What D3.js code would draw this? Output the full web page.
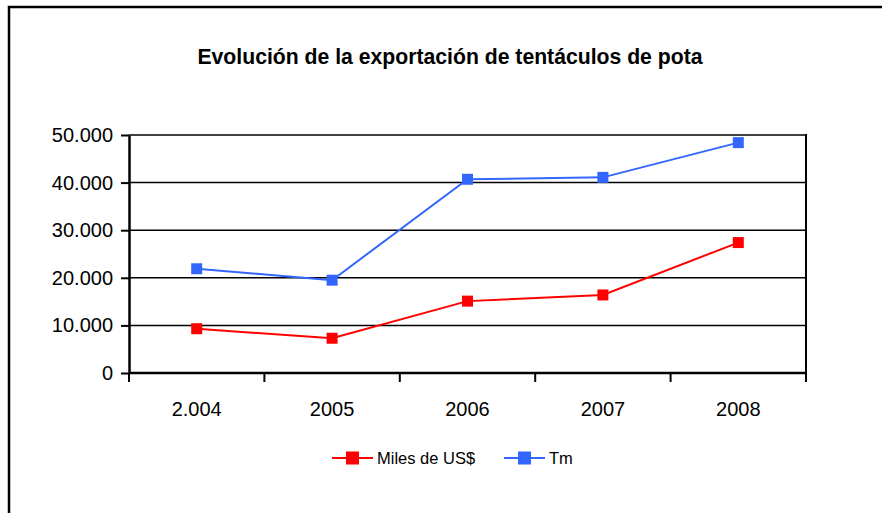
<!DOCTYPE html>
<html>
<head>
<meta charset="utf-8">
<script src="https://cdn.jsdelivr.net/npm/d3@7"></script>
<style>
  body { margin: 0; background: #fff; }
  text { font-family: "Liberation Sans", Arial, sans-serif; }
</style>
</head>
<body>
<div id="viz"></div>
<script>
var W = 882, H = 513;

// data
var years = ["2.004", "2005", "2006", "2007", "2008"];
var milesUS = [9300, 7300, 15100, 16400, 27400];
var tm = [21900, 19500, 40700, 41100, 48400];
var yTicks = [0, 10000, 20000, 30000, 40000, 50000];
var seriesNames = ["Miles de US$", "Tm"];
var seriesColors = ["#ff0000", "#3366ff"];

var svg = d3.select("#viz").append("svg")
    .attr("width", W)
    .attr("height", H);

// outer frame (runs off the right/bottom edge)
svg.append("rect")
    .attr("x", 9).attr("y", 7)
    .attr("width", W + 20).attr("height", H + 20)
    .attr("fill", "#fff")
    .attr("stroke", "#000")
    .attr("stroke-width", 2.5);

svg.append("text")
    .attr("x", 450).attr("y", 64)
    .attr("text-anchor", "middle")
    .style("font-size", "21.2px")
    .style("font-weight", "bold")
    .text("Evolución de la exportación de tentáculos de pota");

var pl = 129, pr = 806, pt = 135, pb = 373;

var x = d3.scaleBand().domain(years).range([pl, pr]);
var y = d3.scaleLinear().domain([0, 50000]).range([pb, pt]);

// gridlines
svg.append("g").selectAll("line")
    .data(yTicks.slice(1))
    .join("line")
    .attr("x1", pl).attr("x2", pr)
    .attr("y1", d => y(d)).attr("y2", d => y(d))
    .attr("stroke", "#000")
    .attr("stroke-width", 1.5);

// right border of plot
svg.append("line")
    .attr("x1", pr).attr("x2", pr)
    .attr("y1", pt - 1).attr("y2", pb)
    .attr("stroke", "#000").attr("stroke-width", 2);

var fmt = d3.formatLocale({decimal: ",", thousands: ".", grouping: [3], currency: ["", ""]}).format(",");

var yAxis = svg.append("g")
    .attr("transform", "translate(" + pl + ",0)")
    .call(d3.axisLeft(y).tickValues(yTicks).tickFormat(fmt).tickSize(8).tickSizeOuter(0).tickPadding(8));
yAxis.select(".domain").attr("stroke-width", 2.5);
yAxis.selectAll(".tick line").attr("stroke-width", 2);
yAxis.selectAll("text").style("font-size", "20px").attr("fill", "#000");

// x axis with ticks on band boundaries
var xAxis = svg.append("g")
    .attr("transform", "translate(0," + pb + ")");
xAxis.append("line")
    .attr("x1", pl).attr("x2", pr)
    .attr("stroke", "#000").attr("stroke-width", 2.5);
var bounds = years.map(d => x(d)).concat([pr]);
xAxis.selectAll("line.tk")
    .data(bounds)
    .join("line")
    .attr("class", "tk")
    .attr("x1", d => d).attr("x2", d => d)
    .attr("y1", 0).attr("y2", 9)
    .attr("stroke", "#000").attr("stroke-width", 2);
xAxis.selectAll("text")
    .data(years)
    .join("text")
    .attr("x", d => x(d) + x.bandwidth() / 2)
    .attr("y", 43)
    .attr("text-anchor", "middle")
    .style("font-size", "20px")
    .text(d => d);

var line = d3.line()
    .x((d, i) => x(years[i]) + x.bandwidth() / 2)
    .y(d => y(d));

[milesUS, tm].forEach(function(vals, k) {
    svg.append("path")
        .datum(vals)
        .attr("d", line)
        .attr("fill", "none")
        .attr("stroke", seriesColors[k])
        .attr("stroke-width", 2);
    svg.append("g").selectAll("rect")
        .data(vals)
        .join("rect")
        .attr("x", (d, i) => x(years[i]) + x.bandwidth() / 2 - 5.5)
        .attr("y", d => y(d) - 5.5)
        .attr("width", 11).attr("height", 11)
        .attr("fill", seriesColors[k]);
});

// legend
var legX = [332, 504];
seriesNames.forEach(function(name, k) {
    var g = svg.append("g").attr("transform", "translate(" + legX[k] + ",458)");
    g.append("line").attr("x1", 0).attr("x2", 41)
        .attr("stroke", seriesColors[k]).attr("stroke-width", 2);
    g.append("rect").attr("x", 14).attr("y", -6.5).attr("width", 13).attr("height", 13)
        .attr("fill", seriesColors[k]);
    g.append("text").attr("x", 45).attr("y", 6)
        .style("font-size", "16.5px")
        .text(name);
});
</script>
</body>
</html>
